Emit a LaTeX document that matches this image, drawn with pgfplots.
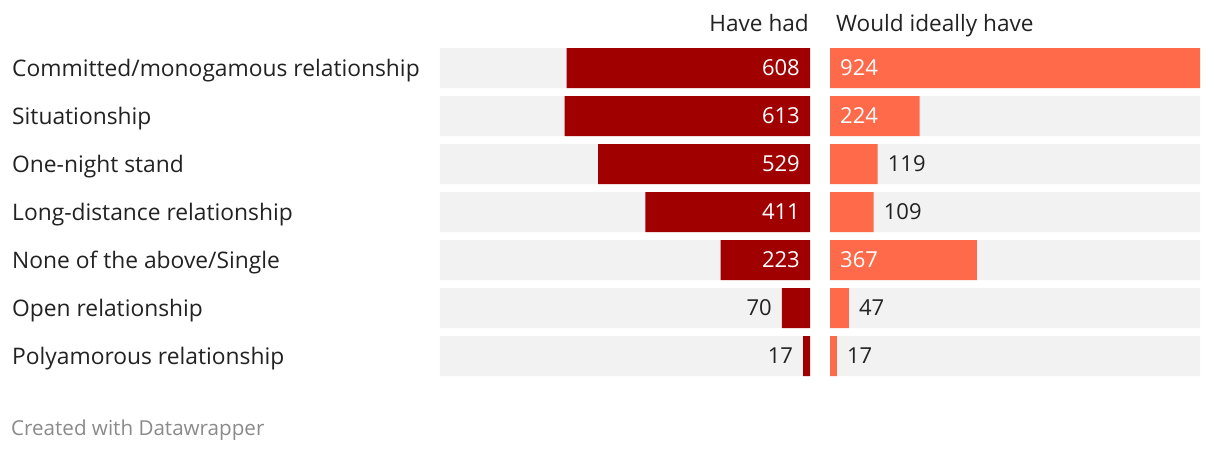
\documentclass[border=0pt]{standalone}
\usepackage{fontspec}
\setmainfont{Open Sans}
\usepackage{pgfplots}
\pgfplotsset{compat=1.18}
\definecolor{dred}{HTML}{A00000}
\definecolor{orng}{HTML}{FF6B4A}
\definecolor{bggray}{HTML}{F2F2F2}
\definecolor{txt}{HTML}{222222}
\definecolor{foot}{HTML}{8A8A8A}
\newcommand\labfont{\fontsize{22}{26}\selectfont}
\newcommand\catfont{\fontsize{22.8}{26}\selectfont}
\newcommand\titfont{\fontsize{22.6}{26}\selectfont}
\begin{document}
\begin{tikzpicture}[x=1pt,y=1pt]
\path[use as bounding box] (0,0) rectangle (1220,-452);
% ---------- left panel: Have had ----------
\begin{axis}[at={(625pt,-212pt)}, anchor=center, scale only axis,
  width=370pt, height=336pt, xmin=0, xmax=924, x dir=reverse,
  ymin=-0.5, ymax=6.5, y dir=reverse, axis lines=none, clip=false]
\addplot[xbar, bar width=40pt, bar shift=0pt, fill=bggray, draw=none]
  coordinates {(924,0) (924,1) (924,2) (924,3) (924,4) (924,5) (924,6)};
\addplot[xbar, bar width=40pt, bar shift=0pt, fill=dred, draw=none]
  coordinates {(608,0) (613,1) (529,2) (411,3) (223,4) (70,5) (17,6)};
\addplot[draw=none, mark=none, nodes near coords, point meta=explicit symbolic,
  every node near coord/.append style={anchor=east, xshift=-10pt, inner sep=0pt,
  text=white, font=\labfont, text height=15.7pt, text depth=0pt}]
  coordinates {(0,0)[608] (0,1)[613] (0,2)[529] (0,3)[411] (0,4)[223]};
\addplot[draw=none, mark=none, nodes near coords, point meta=explicit symbolic,
  every node near coord/.append style={anchor=east, xshift=-10pt, inner sep=0pt,
  text=txt, font=\labfont, text height=15.7pt, text depth=0pt}]
  coordinates {(70,5)[70] (17,6)[17]};
\end{axis}
% ---------- right panel: Would ideally have ----------
\begin{axis}[at={(1015pt,-212pt)}, anchor=center, scale only axis,
  width=370pt, height=336pt, xmin=0, xmax=924,
  ymin=-0.5, ymax=6.5, y dir=reverse, clip=false,
  axis line style={draw=none}, xtick=\empty, major tick length=0pt,
  ytick={0,1,2,3,4,5,6},
  yticklabels={Committed/monogamous relationship, Situationship, One-night stand,
    Long-distance relationship, None of the above/Single, Open relationship,
    Polyamorous relationship},
  yticklabel style={anchor=west, inner sep=0pt, xshift=-818pt, text=txt,
    font=\catfont, text height=16.2pt, text depth=0pt}]
\addplot[xbar, bar width=40pt, bar shift=0pt, fill=bggray, draw=none]
  coordinates {(924,0) (924,1) (924,2) (924,3) (924,4) (924,5) (924,6)};
\addplot[xbar, bar width=40pt, bar shift=0pt, fill=orng, draw=none]
  coordinates {(924,0) (224,1) (119,2) (109,3) (367,4) (47,5) (17,6)};
\addplot[draw=none, mark=none, nodes near coords, point meta=explicit symbolic,
  every node near coord/.append style={anchor=west, xshift=10pt, inner sep=0pt,
  text=white, font=\labfont, text height=15.7pt, text depth=0pt}]
  coordinates {(0,0)[924] (0,1)[224] (0,4)[367]};
\addplot[draw=none, mark=none, nodes near coords, point meta=explicit symbolic,
  every node near coord/.append style={anchor=west, xshift=10pt, inner sep=0pt,
  text=txt, font=\labfont, text height=15.7pt, text depth=0pt}]
  coordinates {(119,2)[119] (109,3)[109] (47,5)[47] (17,6)[17]};
\end{axis}
% ---------- titles and footer ----------
\node[anchor=base east, inner sep=0pt, text=txt, font=\titfont] at (809,-32) {Have had};
\node[anchor=base west, inner sep=0pt, text=txt, font=\titfont] at (836,-32) {Would ideally have};
\node[anchor=base west, inner sep=0pt, text=foot, font=\fontsize{20.6}{25}\selectfont] at (11,-435) {Created with Datawrapper};
\end{tikzpicture}
\end{document}
